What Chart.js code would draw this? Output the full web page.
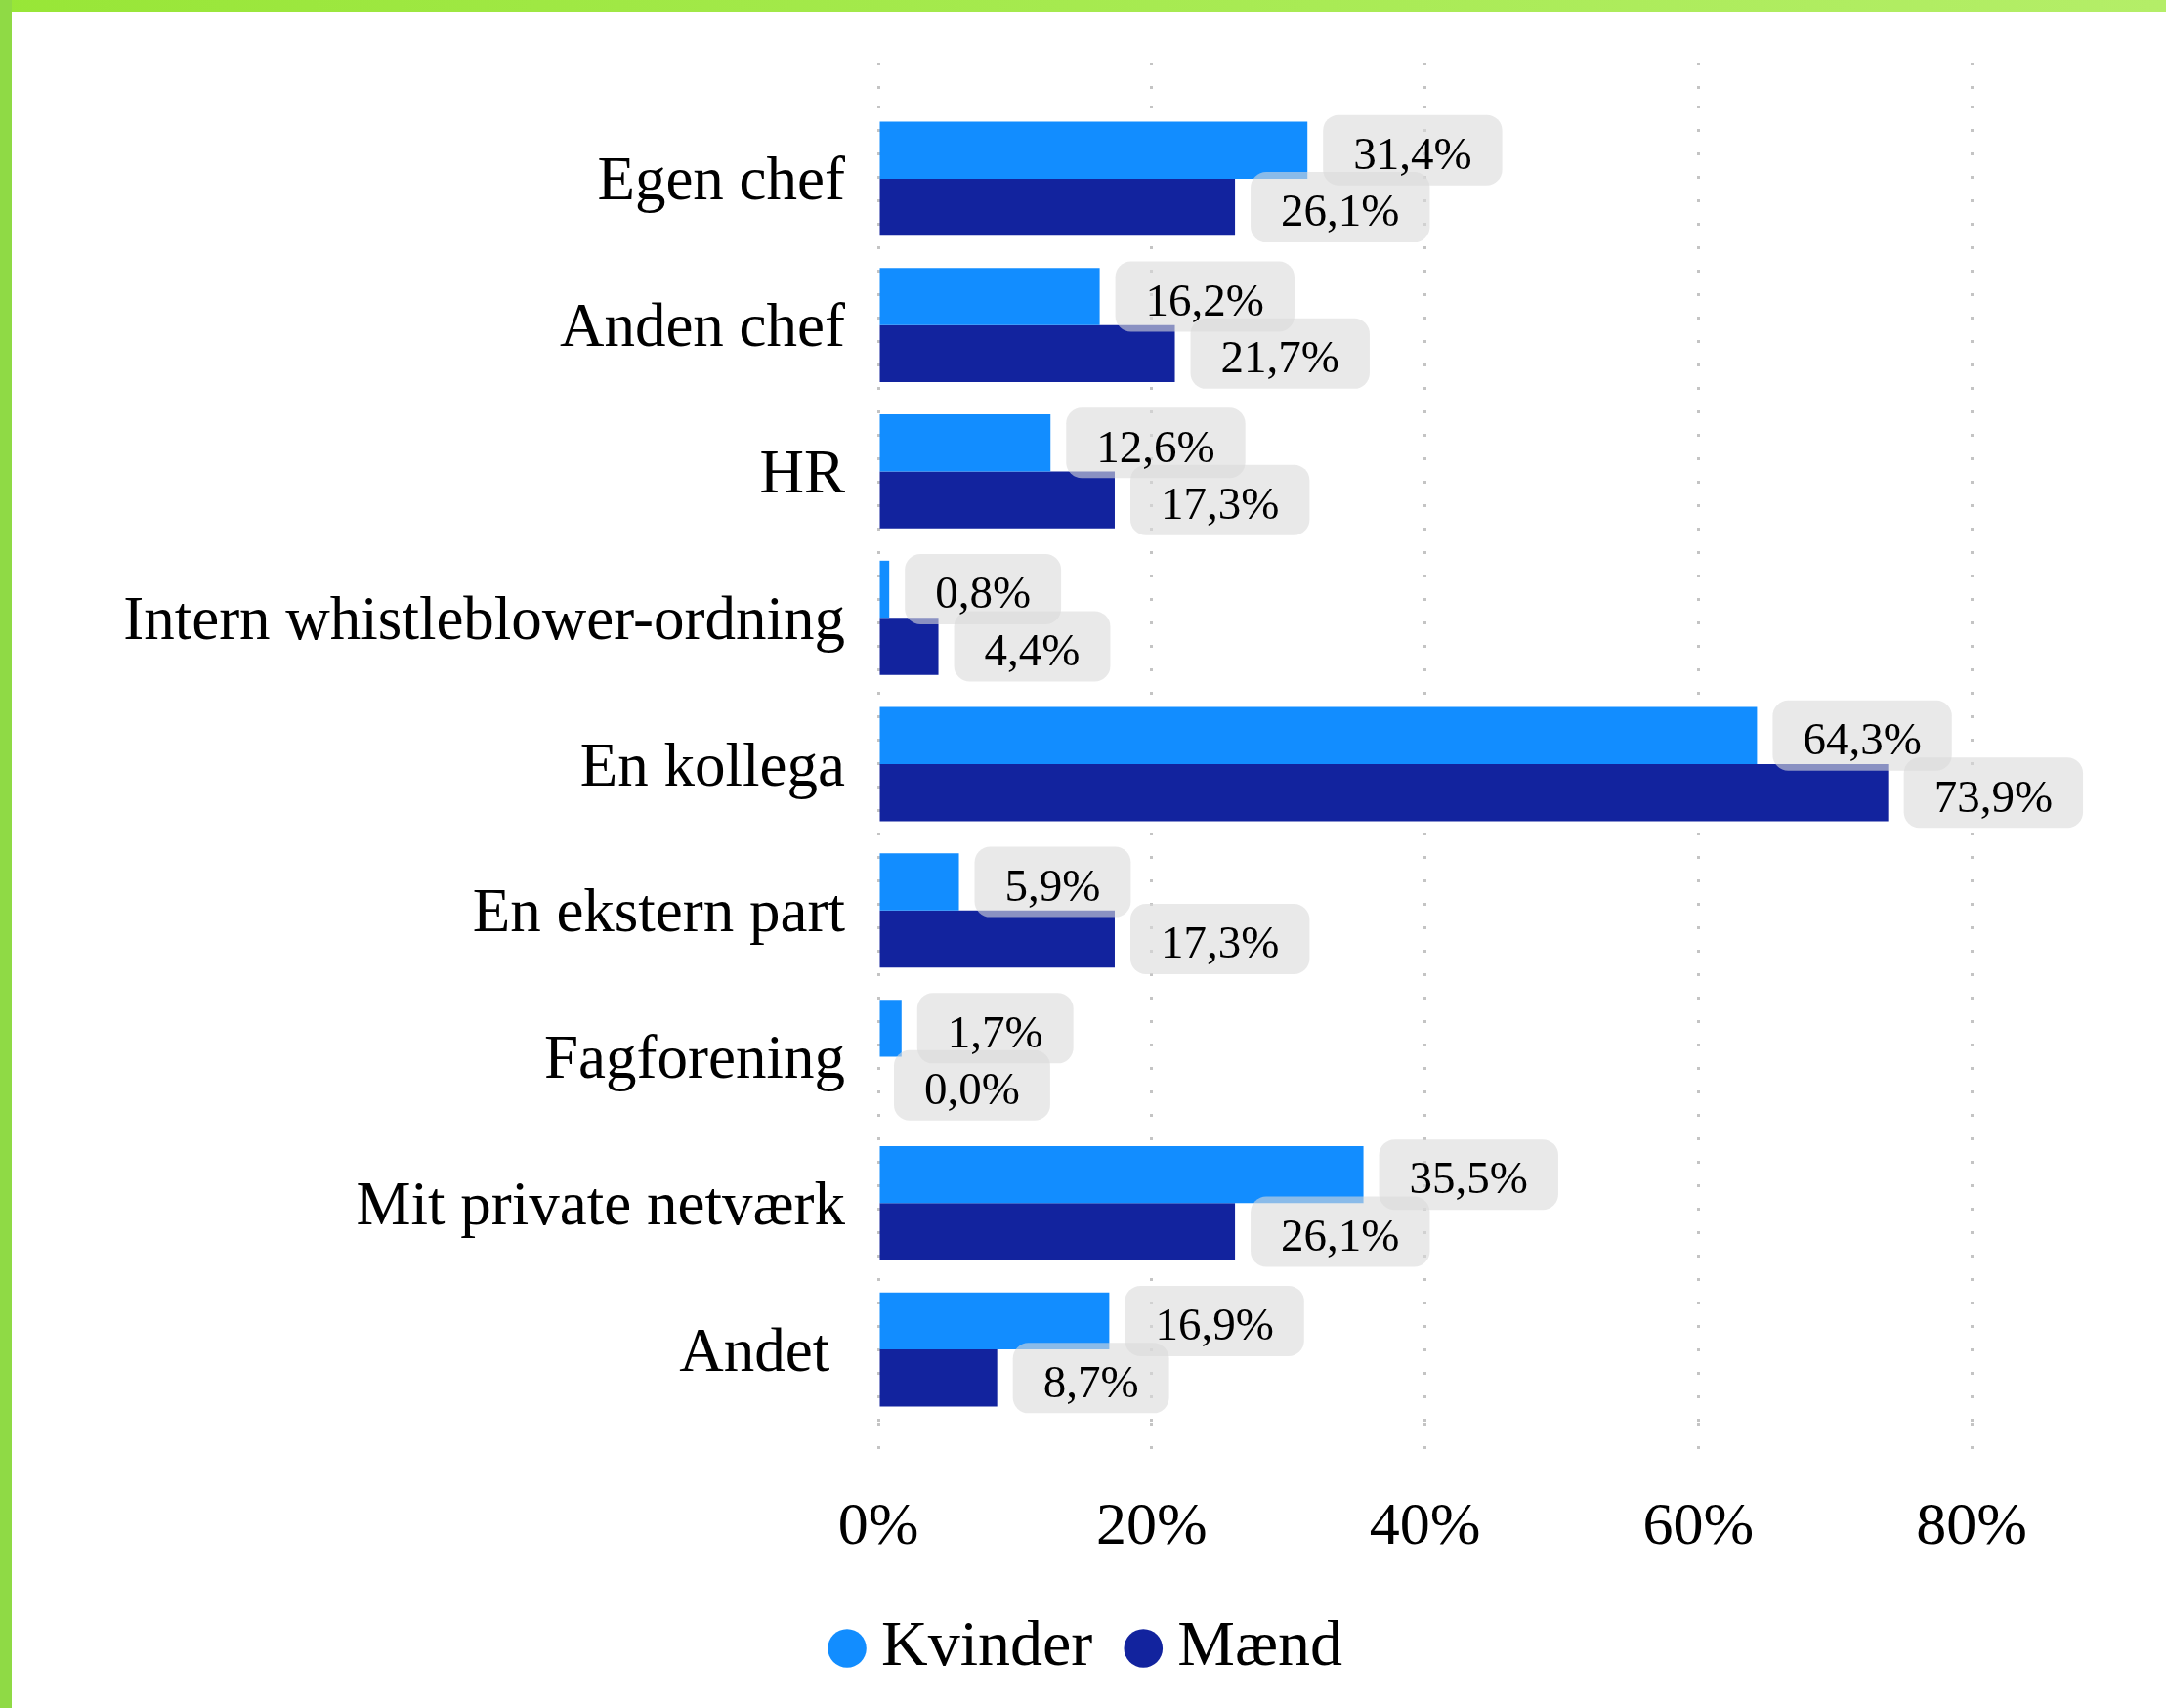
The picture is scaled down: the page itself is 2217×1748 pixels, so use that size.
<!DOCTYPE html>
<html>
<head>
<meta charset="utf-8">
<script src="https://cdn.jsdelivr.net/npm/chart.js@4.4.1/dist/chart.umd.min.js"></script>
<style>
  html, body { margin: 0; padding: 0; background: #fff; }
  body { width: 2217px; height: 1748px; position: relative; overflow: hidden; }
  #wrap { position: absolute; left: 0; top: 0; width: 2217px; height: 1748px; }
  #topbar { position: absolute; left: 0; top: 0; width: 2217px; height: 12px; background: linear-gradient(to right, #98e637, #b4ee68); }
  #leftbar { position: absolute; left: 0; top: 0; width: 12px; height: 1748px; background: #8fda45; }
</style>
</head>
<body>
<div id="wrap"><canvas id="chart" width="2217" height="1748"></canvas></div>
<div id="topbar"></div>
<div id="leftbar"></div>
<script>
const categories = ["Egen chef", "Anden chef", "HR", "Intern whistleblower-ordning", "En kollega", "En ekstern part", "Fagforening", "Mit private netværk", "Andet "];
const seriesNames = ["Kvinder", "Mænd"];
const kvinder = [31.4, 16.2, 12.6, 0.8, 64.3, 5.9, 1.7, 35.5, 16.9];
const maend = [26.1, 21.7, 17.3, 4.4, 73.9, 17.3, 0.0, 26.1, 8.7];
const xTicks = [0, 20, 40, 60, 80];

const FONT = '"Liberation Serif", "DejaVu Serif", serif';
Chart.defaults.font.family = FONT;
Chart.defaults.color = "#000";

const fmt = v => v.toFixed(1).replace(".", ",") + "%";

// grey rounded value boxes to the right of each bar
const valueBoxes = {
  id: "valueBoxes",
  afterDatasetsDraw(chart) {
    const ctx = chart.ctx;
    ctx.save();
    ctx.font = "47px " + FONT;
    ctx.textBaseline = "middle";
    const items = [];
    chart.data.datasets.forEach((ds, i) => {
      chart.getDatasetMeta(i).data.forEach((bar, j) => {
        const text = fmt(ds.data[j]);
        const w = ctx.measureText(text).width + 62;
        items.push({ text, x: bar.x + 16, y: bar.y, w });
      });
    });
    ctx.fillStyle = "rgba(218,218,218,0.6)";
    items.forEach(it => {
      ctx.beginPath();
      ctx.roundRect(it.x, it.y - 36, it.w, 72, 16);
      ctx.fill();
    });
    ctx.fillStyle = "#000";
    items.forEach(it => ctx.fillText(it.text, it.x + 31, it.y + 7));
    ctx.restore();
  }
};

const gridStyle = {
  color: "#c4c4c4",
  lineWidth: 3,
  tickColor: "#c4c4c4",
  tickWidth: 3,
  tickBorderDash: [3, 21]
};
const noBorder = { display: false, dash: [3, 21] };

new Chart(document.getElementById("chart"), {
  type: "bar",
  data: {
    labels: categories,
    datasets: [
      { label: seriesNames[0], data: kvinder, backgroundColor: "#128dff" },
      { label: seriesNames[1], data: maend, backgroundColor: "#12239e" }
    ]
  },
  options: {
    indexAxis: "y",
    responsive: false,
    animation: false,
    devicePixelRatio: 1,
    categoryPercentage: 0.78,
    barPercentage: 1,
    layout: { padding: { left: 22, right: 0, top: 64, bottom: 18 } },
    plugins: {
      legend: {
        position: "bottom",
        labels: {
          usePointStyle: true,
          pointStyle: "circle",
          boxWidth: 4,
          boxHeight: 28,
          padding: 50,
          font: { size: 66 },
          color: "#000"
        }
      },
      tooltip: { enabled: false }
    },
    scales: {
      x: {
        position: "bottom",
        min: 0,
        max: 80,
        afterBuildTicks: s => { s.ticks = xTicks.map(v => ({ value: v })); },
        afterFit: s => { s.height = 148; },
        ticks: { callback: v => v + "%", font: { size: 62 }, color: "#000", padding: 30 },
        grid: { ...gridStyle, tickLength: 41 },
        border: noBorder
      },
      xTop: {
        axis: "x",
        position: "top",
        min: 0,
        max: 80,
        afterBuildTicks: s => { s.ticks = xTicks.map(v => ({ value: v })); },
        ticks: { display: false },
        grid: { ...gridStyle, drawOnChartArea: false, tickLength: 44 },
        border: noBorder
      },
      y: {
        afterFit: s => { s.width = 877; },
        ticks: { font: { size: 63 }, color: "#000", padding: 26, labelOffset: 5 },
        grid: { display: false },
        border: { display: false }
      },
      yRight: {
        axis: "y",
        position: "right",
        type: "category",
        labels: categories,
        afterFit: s => { s.width = 199; },
        ticks: { display: false },
        grid: { display: false },
        border: { display: false }
      }
    }
  },
  plugins: [valueBoxes]
});
</script>
</body>
</html>
